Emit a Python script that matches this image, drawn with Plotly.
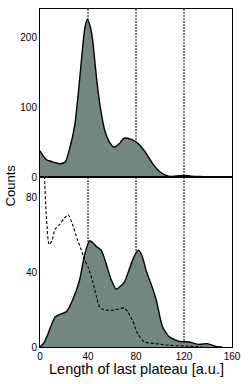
import plotly.graph_objects as go

# Top panel (solid, filled)
top_x = [0, 3, 5.5, 11, 16.6, 21, 25, 29, 32.5, 35.5, 37.5, 39.5, 42, 44, 46, 48.3, 51, 54, 58, 62, 66, 70, 75, 80.6, 87, 94, 99.4, 105, 110, 116, 120, 126, 133, 140, 145.5]
top_y = [38, 30, 25, 22, 19.5, 22, 43, 75, 130, 185, 214, 225, 214, 194, 160, 124, 92, 67, 50, 43, 48, 56, 55, 50, 38, 19.5, 9, 3, 1.5, 2.5, 3, 2, 1.5, 1, 0.3]

# Bottom panel, solid filled curve
bot_x = [0, 3, 6, 9, 12.4, 16.6, 22, 27, 33, 37.3, 41.4, 44, 47, 51, 55, 59.4, 63.5, 67.7, 70.5, 74, 78, 82, 85, 89, 93, 97, 102, 107.7, 116, 124, 132.6, 139.5, 146.4, 152]
bot_y = [0, 2, 6, 11, 16, 17.5, 19, 25, 36, 50, 57, 56, 54, 52, 45, 36, 31, 33, 35, 41, 48, 52, 49, 40, 33, 25, 11, 5.5, 3, 2.7, 1.4, 1.8, 0.3, 0]

# Bottom panel, dashed curve
dash_x = [1.5, 3.5, 5.5, 7.6, 10, 12.4, 16.6, 20, 23.5, 27, 31, 34.5, 37, 40, 44, 47, 49.7, 53, 56.6, 63, 70, 73, 77.3, 81.5, 87, 96.7, 107.7, 121.5, 135]
dash_y = [140, 95, 68, 55, 57, 63, 66, 69, 71, 66, 58, 52, 47, 43, 35, 27, 21.5, 20, 19.7, 20, 21, 19, 14, 7, 2.7, 1.8, 0.9, 0.5, 0]

ref_lines = [40, 80, 120]
x_ticks = [0, 40, 80, 120, 160]
top_ticks = [0, 100, 200]
bot_ticks = [0, 40, 80]

FILL = "#738682"
FONT = "Liberation Sans, Arial, sans-serif"

fig = go.Figure()
fig.add_trace(go.Scatter(x=top_x, y=top_y, mode="lines", fill="tozeroy",
                         fillcolor=FILL, line=dict(color="black", width=1.4, shape="spline", smoothing=0.6),
                         xaxis="x", yaxis="y", showlegend=False))
fig.add_trace(go.Scatter(x=bot_x, y=bot_y, mode="lines", fill="tozeroy",
                         fillcolor=FILL, line=dict(color="black", width=1.4, shape="spline", smoothing=0.6),
                         xaxis="x2", yaxis="y2", showlegend=False))
fig.add_trace(go.Scatter(x=dash_x, y=dash_y, mode="lines",
                         line=dict(color="black", width=1.1, dash="3px,2px", shape="spline", smoothing=0.6),
                         xaxis="x2", yaxis="y2", showlegend=False))

for v in ref_lines:
    fig.add_shape(type="line", xref="x2", yref="paper", x0=v, x1=v, y0=0, y1=1,
                  line=dict(color="black", width=1, dash="2px,1px"), layer="below")

axis_common = dict(showline=True, linecolor="black", linewidth=1, mirror=True,
                   showgrid=False, zeroline=False, ticks="",
                   tickfont=dict(family=FONT, size=10, color="black"))

split = 0.5015
fig.update_layout(
    width=249, height=384,
    margin=dict(l=40, r=15, t=8, b=37),
    paper_bgcolor="white", plot_bgcolor="white",
    xaxis=dict(range=[0, 160], domain=[0, 1], anchor="y", showticklabels=False, **axis_common),
    yaxis=dict(range=[0, 240], domain=[split, 1], anchor="x", tickvals=top_ticks, **axis_common),
    xaxis2=dict(range=[0, 160], domain=[0, 1], anchor="y2", tickvals=x_ticks, **axis_common),
    yaxis2=dict(range=[0, 91], domain=[0, split], anchor="x2", tickvals=bot_ticks, **axis_common),
    annotations=[
        dict(text="Counts", xref="paper", yref="paper", x=0, y=0.478, xshift=-30,
             textangle=-90, showarrow=False, xanchor="center", yanchor="middle",
             font=dict(family=FONT, size=13, color="black")),
        dict(text="Length of last plateau [a.u.]", xref="paper", yref="paper", x=0.505, y=-0.064,
             showarrow=False, xanchor="center", yanchor="middle",
             font=dict(family=FONT, size=14.5, color="black")),
    ],
)

fig.write_html("out.html", config={"displayModeBar": False},
               post_script="document.body.style.margin='0';document.body.style.overflow='hidden';")
